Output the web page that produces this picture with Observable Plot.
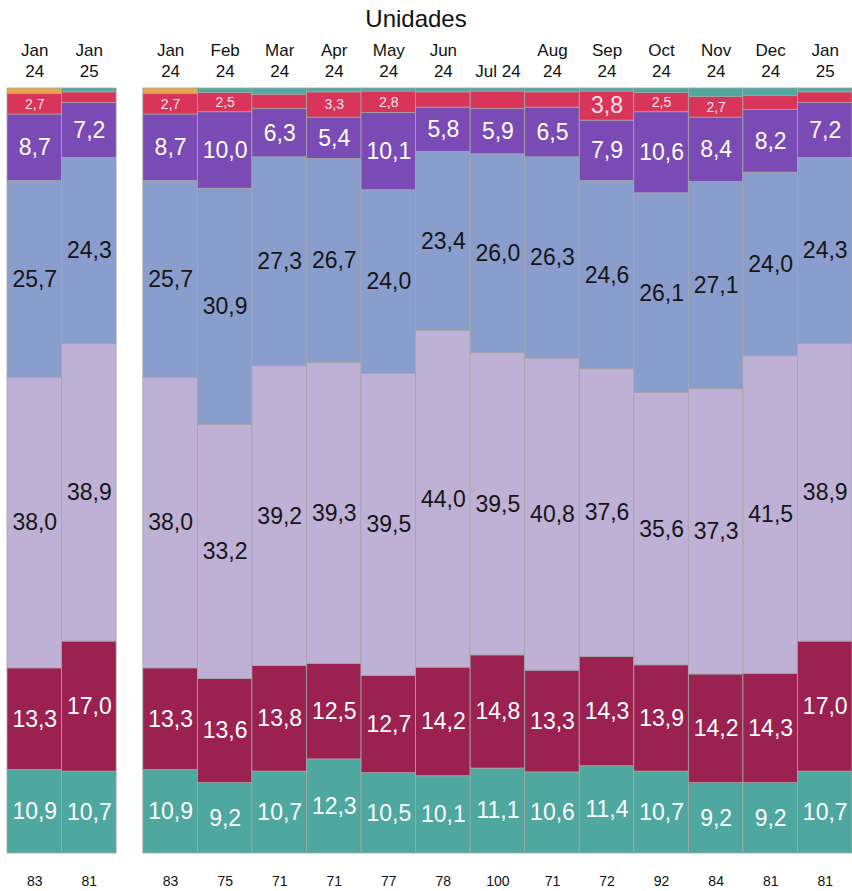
<!DOCTYPE html>
<html><head><meta charset="utf-8">
<script src="https://cdn.jsdelivr.net/npm/d3@7"></script>
<script src="https://cdn.jsdelivr.net/npm/@observablehq/plot@0.6"></script>
<style>
body{margin:0;background:#fff;font-family:"Liberation Sans",Arial,sans-serif;}
#wrap{position:relative;width:852px;height:891px;}
#title{position:absolute;left:0;top:6px;width:832px;text-align:center;font-size:24px;line-height:26px;color:#111;}
</style></head><body>
<div id="wrap"><div id="title">Unidades</div><div id="chart"></div></div>
<script>
// ---- data ----
const months = ["Jan 24","Feb 24","Mar 24","Apr 24","May 24","Jun 24","Jul 24","Aug 24","Sep 24","Oct 24","Nov 24","Dec 24","Jan 25"];
const monthLabels = ["Jan\n24","Feb\n24","Mar\n24","Apr\n24","May\n24","Jun\n24","Jul 24","Aug\n24","Sep\n24","Oct\n24","Nov\n24","Dec\n24","Jan\n25"];
const totals = [83,75,71,71,77,78,100,71,72,92,84,81,81];
const leftPanel = ["Jan 24","Jan 25"];

const s1 = [10.9,9.2,10.7,12.3,10.5,10.1,11.1,10.6,11.4,10.7,9.2,9.2,10.7];
const s2 = [13.3,13.6,13.8,12.5,12.7,14.2,14.8,13.3,14.3,13.9,14.2,14.3,17.0];
const s3 = [38.0,33.2,39.2,39.3,39.5,44.0,39.5,40.8,37.6,35.6,37.3,41.5,38.9];
const s4 = [25.7,30.9,27.3,26.7,24.0,23.4,26.0,26.3,24.6,26.1,27.1,24.0,24.3];
const s5 = [8.7,10.0,6.3,5.4,10.1,5.8,5.9,6.5,7.9,10.6,8.4,8.2,7.2];
const s6 = [2.7,2.5,1.9,3.3,2.8,2.0,2.3,2.0,3.8,2.5,2.7,1.8,1.4];
const s7 = [0.7,0,0,0,0,0,0,0,0,0,0,0,0];
const s8 = [0,0.6,0.8,0.5,0.4,0.5,0.4,0.5,0.4,0.6,1.1,1.0,0.5];

const seriesNames = ["S1","S2","S3","S4","S5","S6","S7","S8"];
const seriesValues = [s1,s2,s3,s4,s5,s6,s7,s8];

// ---- styles ----
const seriesColors = ["#4ea89f","#9a2150","#bfb0d5","#8a9ecd","#7a4bb4","#d9345a","#e9a54a","#4ea89f"];
const labelColors = ["#ffffff","#ffffff","#151515","#151515","#ffffff","#fbe4ea",null,null];
const panelGap = 0.49;

// ---- build ----
const bars = [
  ...leftPanel.map((m, k) => ({pos: k, idx: months.indexOf(m)})),
  ...months.map((m, i) => ({pos: leftPanel.length + panelGap + i, idx: i}))
].map(b => ({...b, x1: b.pos, x2: b.pos + 1, xc: b.pos + 0.5}));

const rows = [];
for (const b of bars) {
  let acc = 0;
  seriesNames.forEach((s, j) => {
    const v = seriesValues[j][b.idx];
    rows.push({series: s, sj: j, value: v, x1: b.x1, x2: b.x2, xc: b.xc, y1: acc, y2: acc + v, yc: acc + v / 2});
    acc += v;
  });
}
const fmt = v => v.toFixed(1).replace(".", ",");
const showLabel = d => d.value > 0 && (d.sj < 5 || (d.sj === 5 && d.value >= 2.5));

const labelMarks = seriesNames.map((s, j) => labelColors[j] ? Plot.text(rows.filter(d => d.sj === j && showLabel(d)), {
  x: "xc", y: "yc", text: d => fmt(d.value), fill: labelColors[j],
  fontSize: j === 5 ? (d => d.value >= 3.5 ? 23 : 14) : 23
}) : null).filter(Boolean);

const chart = Plot.plot({
  width: 852, height: 891,
  marginTop: 88, marginBottom: 38, marginLeft: 7, marginRight: 0,
  x: {type: "linear", domain: [0, leftPanel.length + panelGap + months.length], axis: null},
  y: {domain: [0, 100], axis: null},
  color: {domain: seriesNames, range: seriesColors},
  style: {fontFamily: "'Liberation Sans', Arial, sans-serif", background: "#fff"},
  marks: [
    Plot.rect(rows.filter(d => d.value > 0), {x1: "x1", x2: "x2", y1: "y1", y2: "y2", fill: "series", stroke: "#a5a5a5", strokeWidth: 0.8}),
    ...labelMarks,
    Plot.text(bars, {x: "xc", text: d => monthLabels[d.idx], frameAnchor: "top", lineAnchor: "bottom", dy: -12, fontSize: 17, lineHeight: 1.2, fill: "#111"}),
    Plot.text(bars, {x: "xc", text: d => String(totals[d.idx]), frameAnchor: "bottom", dy: 32, fontSize: 14, fill: "#111"})
  ]
});
document.getElementById("chart").appendChild(chart);
</script>
</body></html>
